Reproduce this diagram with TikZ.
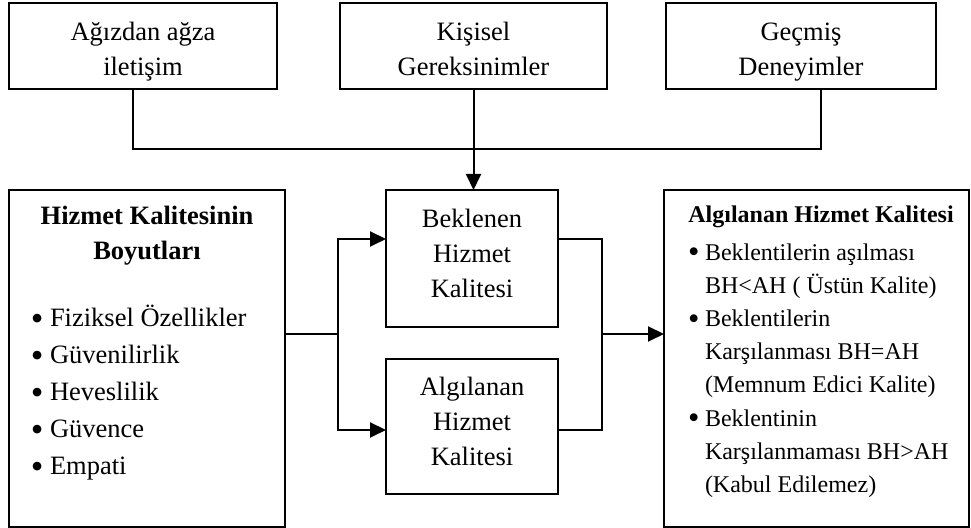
\documentclass[tikz,border=0pt]{standalone}
\usepackage{fontspec}
\setmainfont{Liberation Serif}
\usetikzlibrary{arrows.meta}
\newcommand\mybulL{\makebox[9.5pt][l]{\raisebox{-1.6pt}{\fontsize{18}{18}\selectfont\textbullet}}}
\newcommand\mybulR{\makebox[8.5pt][l]{\raisebox{-1.4pt}{\fontsize{16.3}{16.3}\selectfont\textbullet}}}
\begin{document}
\begin{tikzpicture}[x=0.5pt,y=-0.5pt, line width=1pt,
  box/.style={draw, line width=1pt, inner sep=0pt, outer sep=0pt},
  txt/.style={align=center, font=\fontsize{13.25}{17.5}\selectfont, inner sep=0pt},
  arr/.style={-{Triangle[length=8pt,width=7.5pt]}}]
\useasboundingbox (0,0) rectangle (971,528);
% top boxes
\node[box, minimum width=134pt, minimum height=43pt] (b1) at (143,46) {};
\node[box, minimum width=133.5pt, minimum height=43pt] (b2) at (473.5,46) {};
\node[box, minimum width=135pt, minimum height=43pt] (b3) at (801,46) {};
\node[txt] (b1t) at (143,51) {\strut Ağızdan ağza\\iletişim\strut};
\node[txt] (b2t) at (473.5,51) {\strut Kişisel\\Gereksinimler\strut};
\node[txt] (b3t) at (801,51) {\strut Geçmiş\\Deneyimler\strut};
% main boxes
\node[box, minimum width=138pt, minimum height=168.5pt] (lb) at (147,358.5) {};
\node[box, minimum width=86pt, minimum height=68.5pt] (bek) at (472,258.5) {};
\node[box, minimum width=86pt, minimum height=67.5pt] (alg) at (472,426.5) {};
\node[box, minimum width=152.5pt, minimum height=168.5pt] (rb) at (816.5,358.5) {};
% texts
\node[txt] (bekt) at (472,253) {Beklenen\\Hizmet\\Kalitesi};
\node[txt] (algt) at (472,421) {Algılanan\\Hizmet\\Kalitesi};
\node[txt, font={\fontsize{13.25}{17.5}\selectfont\bfseries}] (lbt) at (147,235.5) {Hizmet Kalitesinin\\Boyutları};
\node[txt, align=left, anchor=west, font={\fontsize{13.25}{18.5}\selectfont}] (lbi) at (30,393)
  {\mybulL Fiziksel Özellikler\\\mybulL Güvenilirlik\\\mybulL Heveslilik\\\mybulL Güvence\\\mybulL Empati};
\node[txt, font={\fontsize{12}{16}\selectfont\bfseries}] (rbt) at (821,217) {Algılanan Hizmet Kalitesi};
\node[txt, align=left, anchor=west, font={\fontsize{12}{16.6}\selectfont}] (rbi) at (687,370.5)
  {\mybulR Beklentilerin aşılması\\\hspace*{8.5pt}BH<AH ( Üstün Kalite)\\\mybulR Beklentilerin\\\hspace*{8.5pt}Karşılanması BH=AH\\\hspace*{8.5pt}(Memnum Edici Kalite)\\\mybulR Beklentinin\\\hspace*{8.5pt}Karşılanmaması BH>AH\\\hspace*{8.5pt}(Kabul Edilemez)};
% connectors
\coordinate (j1) at (133,149);
\coordinate (j3) at (821,149);
\draw (b1.south -| j1) -- (j1) -- (j3) -- (b3.south -| j3);
\draw[arr] (b2.south) -- (b2.south |- bek.north);
\coordinate (yA) at (0,239);
\coordinate (yB) at (0,430);
\coordinate (s1) at (338,334);
\coordinate (s2) at (602,334);
\draw (lb.east |- s1) -- (s1);
\draw[arr] (s1) |- (bek.west |- yA);
\draw[arr] (s1) |- (alg.west |- yB);
\draw (bek.east |- yA) -| (s2);
\draw (alg.east |- yB) -| (s2);
\draw[arr] (s2) -- (rb.west |- s2);
\end{tikzpicture}
\end{document}
